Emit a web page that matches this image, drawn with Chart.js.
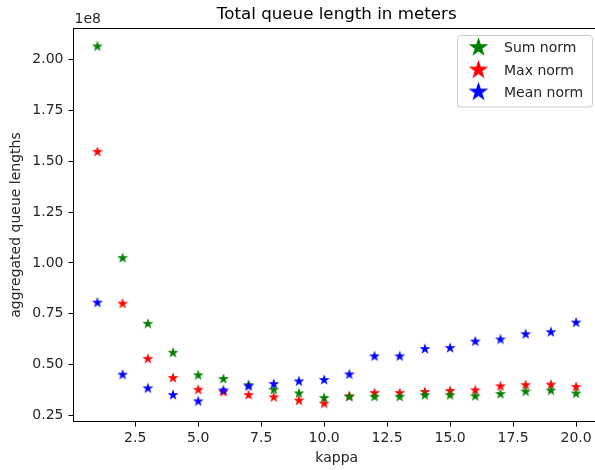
<!DOCTYPE html>
<html><head><meta charset="utf-8">
<script src="https://cdn.jsdelivr.net/npm/chart.js@4/dist/chart.umd.min.js"></script>
<style>html,body{margin:0;padding:0;background:#fff;overflow:hidden;width:595px;height:470px}canvas{display:block}</style>
</head><body><canvas id="c" width="605" height="470"></canvas>
<script>
const kappa = [1,2,3,4,5,6,7,8,9,10,11,12,13,14,15,16,17,18,19,20];
const sumNorm = [2.064,1.024,0.701,0.559,0.448,0.430,0.400,0.377,0.359,0.337,0.342,0.342,0.342,0.350,0.350,0.345,0.356,0.368,0.373,0.358];
const maxNorm = [1.546,0.800,0.529,0.435,0.377,0.366,0.351,0.340,0.324,0.309,0.345,0.361,0.361,0.366,0.371,0.374,0.394,0.400,0.402,0.391];
const meanNorm = [0.805,0.451,0.384,0.351,0.320,0.374,0.394,0.405,0.418,0.425,0.452,0.541,0.541,0.577,0.582,0.614,0.624,0.650,0.660,0.707];
const xTicks = [2.5,5,7.5,10,12.5,15,17.5,20];
const yTicks = [0.25,0.5,0.75,1.0,1.25,1.5,1.75,2.0];
const seriesLabels = ['Sum norm','Max norm','Mean norm'];
const seriesColors = ['#008000','#ff0000','#0000ff'];
const titleText = 'Total queue length in meters';
const xTitle = 'kappa';
const yTitle = 'aggregated queue lengths';
const offsetText = '1e8';

const FONT = '"DejaVu Sans", sans-serif';

function makeStar(color, R, lw) {
  const pad = 2;
  const s = Math.ceil(2 * R + 2 * pad);
  const c = document.createElement('canvas');
  c.width = s; c.height = s;
  const g = c.getContext('2d');
  g.beginPath();
  for (let i = 0; i < 10; i++) {
    const r = i % 2 ? R * 0.381966 : R;
    const a = -Math.PI / 2 + i * Math.PI / 5;
    const x = s / 2 + r * Math.cos(a), y = s / 2 + r * Math.sin(a);
    if (i) g.lineTo(x, y); else g.moveTo(x, y);
  }
  g.closePath();
  g.fillStyle = color; g.fill();
  g.lineWidth = lw; g.strokeStyle = color; g.lineJoin = 'miter'; g.stroke();
  return c;
}

const seriesValues = [sumNorm, maxNorm, meanNorm];
const plotStars = seriesColors.map(c => makeStar(c, 4.0, 1.1));
const legendStars = seriesColors.map(c => makeStar(c, 8.4, 1.2));
const drawOrder = [1, 2, 0];

const datasets = seriesLabels.map((lab, i) => ({
  label: lab,
  data: kappa.map((k, j) => ({x: k, y: seriesValues[i][j]})),
  pointStyle: plotStars[i],
  backgroundColor: seriesColors[i],
  borderColor: seriesColors[i],
  showLine: false,
  order: drawOrder[i]
}));

const decor = {
  id: 'decor',
  afterDraw(chart) {
    const ctx = chart.ctx, a = chart.chartArea;
    ctx.save();
    ctx.strokeStyle = '#000'; ctx.lineWidth = 1;
    ctx.strokeRect(a.left, a.top, a.right - a.left, a.bottom - a.top);
    ctx.fillStyle = '#000';
    ctx.font = '16.7px ' + FONT;
    ctx.textAlign = 'center'; ctx.textBaseline = 'alphabetic';
    ctx.fillText(titleText, (a.left + a.right) / 2, 19);
    ctx.font = '14px ' + FONT;
    ctx.textAlign = 'left';
    ctx.fillStyle = '#262626';
    ctx.fillText(offsetText, a.left + 1, 23.3);
    const bx = 457.5, by = 35.5, bw = 135, bh = 71.5, rr = 3;
    ctx.beginPath();
    ctx.moveTo(bx + rr, by);
    ctx.arcTo(bx + bw, by, bx + bw, by + bh, rr);
    ctx.arcTo(bx + bw, by + bh, bx, by + bh, rr);
    ctx.arcTo(bx, by + bh, bx, by, rr);
    ctx.arcTo(bx, by, bx + bw, by, rr);
    ctx.closePath();
    ctx.fillStyle = 'rgba(255,255,255,0.8)'; ctx.fill();
    ctx.strokeStyle = '#cccccc'; ctx.lineWidth = 1; ctx.stroke();
    const rows = [47.5, 70, 92];
    ctx.font = '14px ' + FONT;
    ctx.textBaseline = 'middle';
    ctx.textAlign = 'left';
    ctx.fillStyle = '#262626';
    seriesLabels.forEach((lab, i) => {
      const st = legendStars[i];
      ctx.drawImage(st, 478.5 - st.width / 2, rows[i] - st.height / 2);
      ctx.fillText(lab, 504, rows[i] + 1);
    });
    ctx.restore();
  }
};

new Chart(document.getElementById('c'), {
  type: 'scatter',
  data: {datasets},
  options: {
    responsive: false,
    animation: false,
    devicePixelRatio: 1,
    layout: {padding: {top: 28.5, right: 4, left: 0, bottom: 0}},
    plugins: {legend: {display: false}, tooltip: {enabled: false}, title: {display: false}},
    elements: {point: {radius: 4, hoverRadius: 4}},
    scales: {
      x: {
        type: 'linear', min: 0.05, max: 20.95,
        afterBuildTicks: s => { s.ticks = xTicks.map(v => ({value: v})); },
        afterFit: s => { s.height = 48.5; },
        grid: {drawOnChartArea: false, drawTicks: true, tickLength: 5, tickColor: '#000'},
        border: {display: false},
        ticks: {font: {family: FONT, size: 14}, color: '#262626', padding: 3, maxRotation: 0,
                callback: v => Number(v).toFixed(1)},
        title: {display: true, text: xTitle, font: {family: FONT, size: 14}, color: '#262626', padding: {top: 0, bottom: 3}}
      },
      y: {
        type: 'linear', min: 0.221, max: 2.152,
        afterBuildTicks: s => { s.ticks = yTicks.map(v => ({value: v})); },
        afterFit: s => { s.width = 73.5; },
        grid: {drawOnChartArea: false, drawTicks: true, tickLength: 5, tickColor: '#000'},
        border: {display: false},
        ticks: {font: {family: FONT, size: 14}, color: '#262626', padding: 5,
                callback: v => Number(v).toFixed(2)},
        title: {display: true, text: yTitle, font: {family: FONT, size: 14}, color: '#262626', padding: {top: 8, bottom: 0}}
      }
    }
  },
  plugins: [decor]
});
</script>
</body></html>
